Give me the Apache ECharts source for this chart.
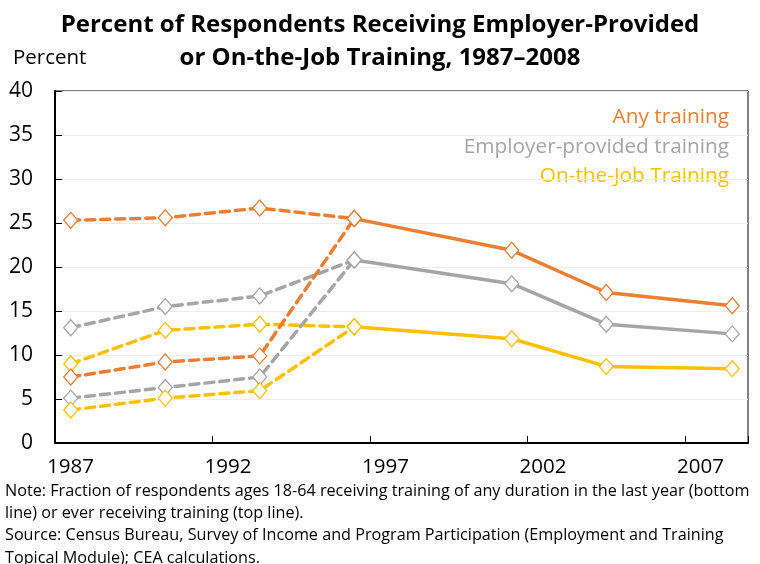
<!DOCTYPE html>
<html><head><meta charset="utf-8">
<script src="https://cdn.jsdelivr.net/npm/echarts@6/dist/echarts.min.js"></script>
<style>html,body{margin:0;padding:0;background:#fff}#c{width:760px;height:564px}</style>
</head><body><div id="c"></div>
<script>
// Survey years (plotted at mid-year)
const years = [1987.5, 1990.5, 1993.5, 1996.5, 2001.5, 2004.5, 2008.5];
const xTickLabels = [1987, 1992, 1997, 2002, 2007];
const yTicks = [0, 5, 10, 15, 20, 25, 30, 35, 40];
// Ever receiving training (top dashed lines), 1987-1996 panels
const anyEver      = [25.3, 25.6, 26.7, 25.5];
const employerEver = [13.1, 15.5, 16.7, 20.8];
const ojtEver      = [9.0, 12.8, 13.5, 13.2];
// Training in the last year (bottom dashed lines), 1987-1993 then joining 1996
const anyLastYr      = [7.5, 9.2, 9.9, 25.5];
const employerLastYr = [5.1, 6.3, 7.5, 20.8];
const ojtLastYr      = [3.75, 5.1, 5.95, 13.2];
// Solid lines 1996 onward
const anySolid      = [25.5, 21.9, 17.1, 15.6];
const employerSolid = [20.8, 18.1, 13.5, 12.4];
const ojtSolid      = [13.2, 11.85, 8.7, 8.45];

const BASE = 1987;
const C = {any:'#ED7D31', emp:'#A5A5A5', ojt:'#FFC000'};
const FONT = '"Open Sans", "Liberation Sans", sans-serif';

function pts(xs, ys){ return ys.map((v,i)=>[xs[i]-BASE, v]); }
function ser(name, data, color, dashed){
  return {
    type:'line', name, data, color,
    symbol:'diamond', symbolSize:[14,16], showSymbol:true,
    lineStyle:{color, width:3.5, type: dashed ? [9,6] : 'solid', cap: dashed?'round':'butt'},
    itemStyle:{color:'#fff', borderColor:color, borderWidth:1.3},
    silent:true, animation:false
  };
}
const early = years.slice(0,4);
const late = years.slice(3);

const series = [
  ser('Any ever', pts(early, anyEver), C.any, true),
  ser('Emp ever', pts(early, employerEver), C.emp, true),
  ser('OJT ever', pts(early, ojtEver), C.ojt, true),
  ser('Any last', pts(early, anyLastYr), C.any, true),
  ser('Emp last', pts(early, employerLastYr), C.emp, true),
  ser('OJT last', pts(early, ojtLastYr), C.ojt, true),
  ser('Any', pts(late, anySolid), C.any, false),
  ser('Emp', pts(late, employerSolid), C.emp, false),
  ser('OJT', pts(late, ojtSolid), C.ojt, false)
];

const chart = echarts.init(document.getElementById('c'), null, {renderer:'canvas'});
chart.setOption({
  backgroundColor:'#fff',
  animation:false,
  title:{
    text:'Percent of Respondents Receiving Employer-Provided\nor On-the-Job Training, 1987–2008',
    left:'center', top:4,
    textStyle:{fontFamily:FONT, fontWeight:'bold', fontSize:24, lineHeight:33, color:'#000'}
  },
  grid:{left:55, right:12, top:91, bottom:121, show:true, borderColor:'#000', borderWidth:1},
  xAxis:{
    type:'value', min:0, max:22, interval:5,
    axisLine:{show:true, onZero:false, lineStyle:{color:'#000', width:2}},
    axisTick:{show:true, inside:true, length:7, lineStyle:{color:'#000'}},
    splitLine:{show:false},
    axisLabel:{color:'#000', fontFamily:FONT, fontSize:20.5, margin:14, padding:[0,0,0,31],
      formatter:v=> xTickLabels.includes(v+BASE) ? String(v+BASE) : ''}
  },
  yAxis:{
    type:'value', min:0, max:40, interval:5,
    axisLine:{show:true, lineStyle:{color:'#000', width:2}},
    axisTick:{show:true, inside:true, length:7, lineStyle:{color:'#000'}},
    splitLine:{show:true, lineStyle:{color:'#EDEDED', width:1}},
    axisLabel:{color:'#000', fontFamily:FONT, fontSize:21, margin:22,
      formatter:v=> yTicks.includes(v) ? String(v) : ''}
  },
  graphic:[
    {type:'text', x:13, y:58, style:{text:'Percent', fill:'#000', font:'20.5px '+FONT, verticalAlign:'middle'}},
    {type:'text', x:729, y:117, style:{text:'Any training', fill:C.any, font:'20.8px '+FONT, align:'right', verticalAlign:'middle'}},
    {type:'text', x:729, y:147, style:{text:'Employer-provided training', fill:C.emp, font:'20.8px '+FONT, align:'right', verticalAlign:'middle'}},
    {type:'text', x:729, y:176, style:{text:'On-the-Job Training', fill:C.ojt, font:'20.8px '+FONT, align:'right', verticalAlign:'middle'}},
    {type:'text', left:5, top:480, style:{
      text:'Note: Fraction of respondents ages 18-64 receiving training of any duration in the last year (bottom\nline) or ever receiving training (top line).\nSource: Census Bureau, Survey of Income and Program Participation (Employment and Training\nTopical Module); CEA calculations.',
      fill:'#000', font:'16.2px '+FONT, lineHeight:22.3}}
  ],
  series
});
</script></body></html>
